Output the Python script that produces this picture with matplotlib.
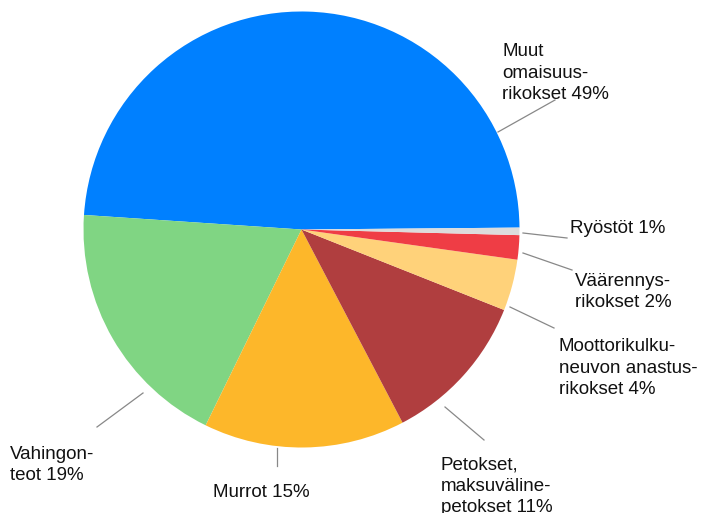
import matplotlib.pyplot as plt

# crime categories (Finnish), shares in percent
categories = ["Muut\nomaisuus-\nrikokset", "Vahingon-\nteot", "Murrot",
              "Petokset,\nmaksuväline-\npetokset", "Moottorikulku-\nneuvon anastus-\nrikokset",
              "Väärennys-\nrikokset", "Ryöstöt"]
shares = [48.75, 18.8, 14.9, 11.3, 3.8, 1.8, 0.55]
shown_pct = [49, 19, 15, 11, 4, 2, 1]
colors = ["#0080ff", "#80d583", "#fdb72a", "#b03e3f", "#ffd27a", "#ef3d45", "#dcdcdc"]

W, H = 705, 513
plt.rcParams['font.family'] = ['Liberation Sans', 'DejaVu Sans']

fig = plt.figure(figsize=(W / 100, H / 100), dpi=100)
ax = fig.add_axes([0, 0, 1, 1])

# pie geometry in pixels (top-left origin)
cx, cy, r = 301.5, 229.5, 218
ax.pie(shares, colors=colors, startangle=0.5, counterclock=True,
       center=(cx, H - cy), radius=r, frame=True,
       wedgeprops=dict(linewidth=0))
ax.set_xlim(0, W)
ax.set_ylim(0, H)
ax.axis('off')

# label layout: text start + last-line baseline, leader line from/to (pixels, top-left origin)
layout = [
    ((502, 99), (498, 132), (555, 100)),
    ((10, 480), (97, 427), (143, 393)),
    ((213, 497), (277, 448), (277, 466)),
    ((441, 512), (445, 407), (484, 440)),
    ((559, 394), (510, 307), (554, 328)),
    ((575, 307), (523, 253), (572, 270)),
    ((570, 233), (523, 233), (567, 238)),
]

for name, pct, (txt, p0, p1) in zip(categories, shown_pct, layout):
    label = "{} {}%".format(name, pct)
    ax.text(txt[0], H - txt[1], label, ha='left', va='baseline',
            fontsize=13.5, color='#111111', linespacing=1.33)
    ax.plot([p0[0], p1[0]], [H - p0[1], H - p1[1]], color='#888888', lw=0.9)

fig.savefig("out.png", dpi=100)
